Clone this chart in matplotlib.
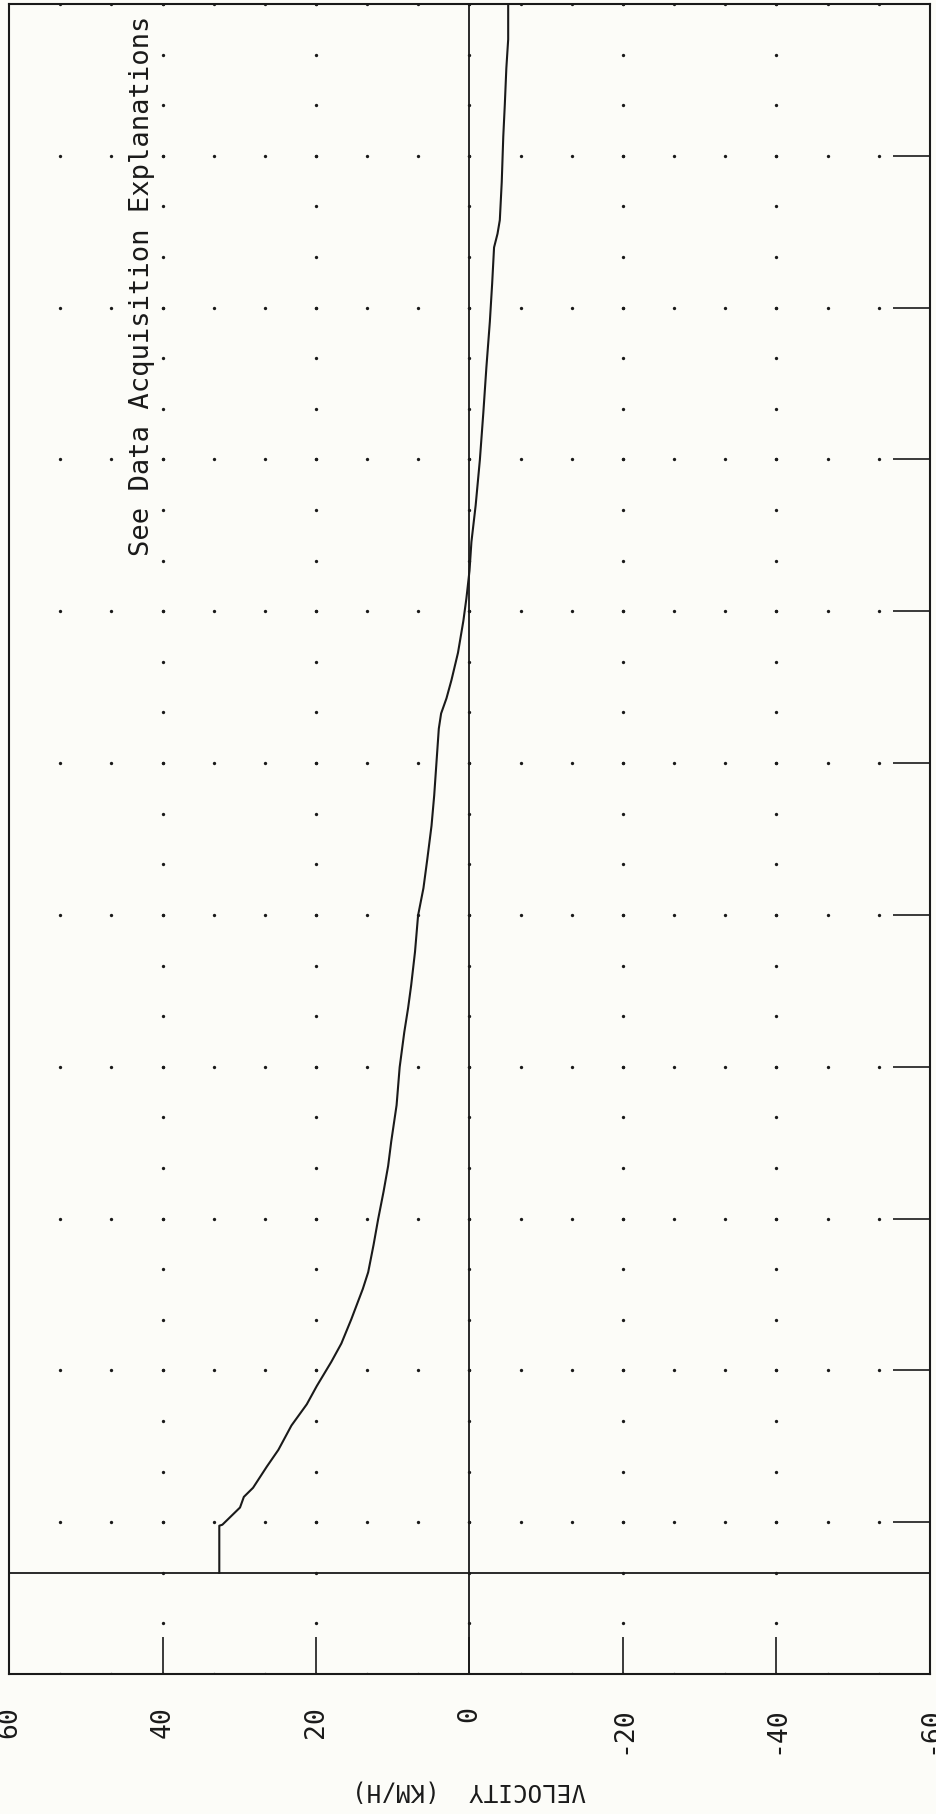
"""
Velocity trace, page turned on its side: velocity runs across the bottom
(60 on the left, -60 on the right), time runs upward.
"""

import numpy as np
import matplotlib
matplotlib.use('Agg')
import matplotlib.pyplot as plt


# ─────────────────────────────────────────────────────────────────────────────
# Data
# ─────────────────────────────────────────────────────────────────────────────

time_s = [
	0.0, 0.0093, 0.0095, 0.0129, 0.0150, 0.0168, 0.0210, 0.0243, 0.0291,
	0.0333, 0.0369, 0.0417, 0.0453, 0.0501, 0.0561, 0.0594, 0.0648, 0.0699,
	0.0753, 0.0804, 0.0852, 0.0924, 0.0999, 0.1068, 0.1116, 0.1161, 0.1227,
	0.1299, 0.1353, 0.1410, 0.1476, 0.1536, 0.1602, 0.1668, 0.1698, 0.1728,
	0.1764, 0.1818, 0.1881, 0.1926, 0.1980, 0.2037, 0.2109, 0.2199, 0.2292,
	0.2382, 0.2472, 0.2547, 0.2619, 0.2646, 0.2673, 0.2748, 0.2838, 0.2901,
	0.2973, 0.3030, 0.3102,
]
velocity_kmh = [
	32.6, 32.6, 32.2, 29.9, 29.4, 28.2, 26.4, 24.9, 23.2,
	21.2, 19.9, 18.0, 16.7, 15.4, 13.9, 13.2, 12.5, 11.9,
	11.2, 10.6, 10.2, 9.5, 9.1, 8.5, 8.0, 7.6, 7.1,
	6.7, 6.0, 5.5, 4.95, 4.6, 4.3, 4.0, 3.7, 3.0,
	2.35, 1.5, 0.8, 0.4, 0.0, -0.25, -0.8, -1.35, -1.8,
	-2.2, -2.65, -2.95, -3.2, -3.65, -3.95, -4.2, -4.4, -4.6,
	-4.8, -5.04, -5.04,
]

vel_ticks  = [60, 40, 20, 0, -20, -40, -60]
vel_labels = ['60', '40', '20', '0', '-20', '-40', '-60']
note_text  = 'See Data Acquisition Explanations'
vel_title  = 'VELOCITY  (KM/H)'

T_MIN, T_MAX = -0.02, 0.31
V_LEFT, V_RIGHT = 60, -60

INK   = '#1a1a1a'
PAPER = '#fcfcf8'
MONO  = 'DejaVu Sans Mono'


# ── Figure layout ─────────────────────────────────────────────────────────
W, H = 936, 1814
fig = plt.figure(figsize=(W / 100, H / 100), dpi=100, facecolor=PAPER)
ax  = fig.add_axes([9 / W, 140 / H, 921 / W, 1670 / H])
ax.set_facecolor(PAPER)
ax.set_xlim(V_LEFT, V_RIGHT)
ax.set_ylim(T_MIN, T_MAX)
for spine in ax.spines.values():
	spine.set_edgecolor(INK)
	spine.set_linewidth(1.5)

# ── Dot grid: coarse columns on major rows, tick columns on every row ────
fine_t   = np.round(T_MIN + 0.01 * np.arange(34), 3)
major_t  = fine_t[::3]
coarse_v = 60 - (20 / 3) * np.arange(1, 18)
fine_v   = [40, 20, 0, -20, -40]

gx, gy = np.meshgrid(coarse_v, major_t)
ax.plot(gx.ravel(), gy.ravel(), ls='none', marker='o', ms=2.4,
        mew=0, color=INK)
fx, fy = np.meshgrid(fine_v, fine_t)
ax.plot(fx.ravel(), fy.ravel(), ls='none', marker='o', ms=2.4,
        mew=0, color=INK)

# ── Zero lines and trace ─────────────────────────────────────────────────
ax.axvline(0, color=INK, lw=1.3)
ax.axhline(0, color=INK, lw=1.3)
ax.plot(velocity_kmh, time_s, color=INK, lw=1.5)

# ── Ticks ────────────────────────────────────────────────────────────────
ax.set_xticks(vel_ticks)
ax.set_xticklabels(vel_labels, rotation=90, family=MONO)
ax.tick_params(axis='x', direction='in', length=27, width=1.2, pad=23,
               labelsize=19, colors=INK, top=False)

ax.yaxis.tick_right()
ax.set_yticks(major_t)
ax.tick_params(axis='y', direction='in', length=27, width=1.2,
               right=True, left=False, labelright=False, labelleft=False,
               colors=INK)

# ── Texts ────────────────────────────────────────────────────────────────
ax.text(42.7, 0.201, note_text, rotation=90, rotation_mode='anchor',
        ha='left', va='center', fontsize=19.5, family=MONO, color=INK)
fig.text(469 / W, 1 - 1791 / H, vel_title, rotation=180,
         ha='center', va='center', fontsize=17.5, family=MONO, color=INK)

fig.savefig('out.png', dpi=100, facecolor=PAPER)
